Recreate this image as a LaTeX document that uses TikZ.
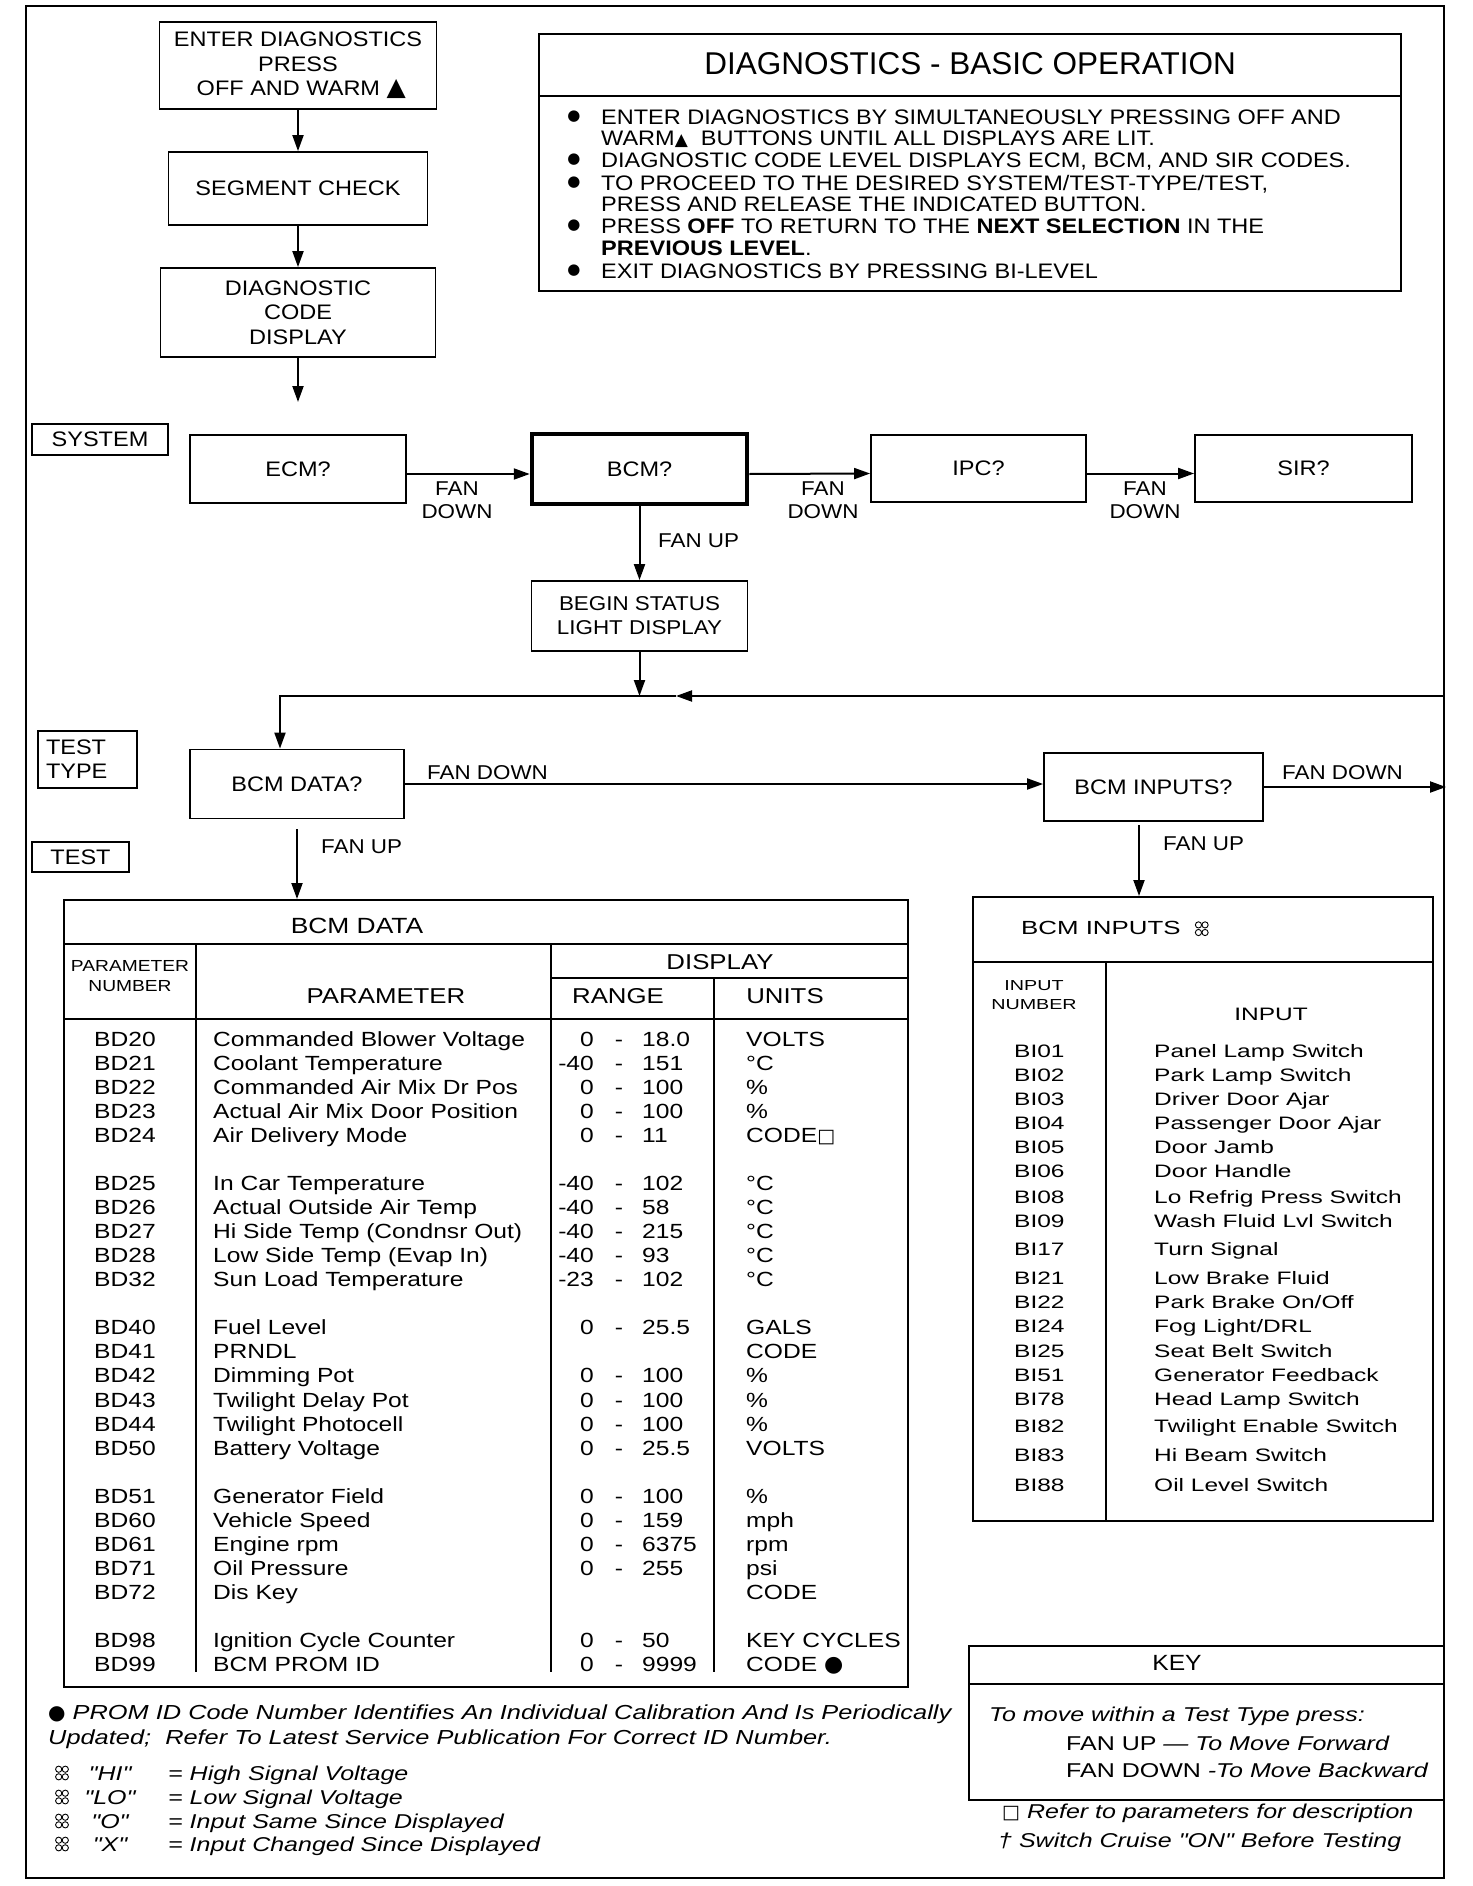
\documentclass[tikz,border=0pt]{standalone}
\usepackage{fontspec}
\setmainfont{Liberation Sans}[FakeStretch=1.12]
\newfontfamily\ttlfont{Liberation Sans}
\newfontfamily\tblfont{Liberation Sans}[FakeStretch=1.2]
\newfontfamily\widefont{Liberation Sans}[FakeStretch=1.36]
\newfontfamily\notefont{Liberation Sans}[FakeStretch=1.25]
\newfontfamily\symfont{DejaVu Sans}
\usetikzlibrary{positioning,arrows.meta}

\newcommand{\fsz}[2]{\fontsize{#1}{#2}\selectfont}
\newcommand{\rings}{\tikz[x=1pt,y=1pt,baseline=0pt]{\foreach \cx in {0,6.6}{\foreach \cy in {2,9.6}{\draw[line width=0.9pt] (\cx,\cy) circle (3.1);}}}}

\tikzset{
  box/.style={draw=black, line width=1.8pt, align=center, font=\fsz{21}{24.5}},
  thickbox/.style={box, line width=4.5pt},
  lvl/.style={draw=black, line width=1.8pt, font=\fsz{21}{24}},
  fl/.style={draw=black, line width=2pt, ->, >={Triangle[length=16pt,width=11pt]}},
  fan/.style={inner sep=0pt, align=center, font=\fsz{20}{23}},
  lbl/.style={inner sep=0pt, text height=15pt, text depth=0pt, font=\fsz{21}{24}},
  tbl/.style={draw=black, line width=2pt},
  rule/.style={draw=black, line width=1.6pt},
  cell/.style={inner sep=0pt, text height=14.5pt, text depth=0pt, font=\tblfont\fsz{20.5}{24}},
  incell/.style={inner sep=0pt, text height=13pt, text depth=0pt, font=\widefont\fsz{18}{22}},
  note/.style={inner sep=0pt, text height=14.5pt, text depth=0pt, font=\notefont\itshape\fsz{20}{24}}
}

\begin{document}
\begin{tikzpicture}[x=1pt, y=-1pt]
  \useasboundingbox (0,0) rectangle (1472,1886);
  \draw[line width=2pt] (26,6) rectangle (1444,1878);

  % entry chain
  \node[box, minimum width=277pt, minimum height=87pt] (enter) at (298,65.5) {ENTER DIAGNOSTICS\\PRESS\\ \ OFF AND WARM {\symfont\fsz{25}{20}▲}};
  \node[box, minimum width=259pt, minimum height=73pt] (seg) at (298,188.5) {SEGMENT CHECK};
  \node[box, minimum width=275pt, minimum height=89pt] (dcd) at (298,312.5) {DIAGNOSTIC\\CODE\\DISPLAY};
  \coordinate (sysin) at (298,402);
  \draw[fl] (enter) -- (seg);
  \draw[fl] (seg) -- (dcd);
  \draw[fl] (dcd) -- (sysin);

  % basic operation panel
  \node[tbl, minimum width=862pt, minimum height=257pt] (ops) at (970,162.5) {};
  \draw[rule] (ops.west |- 0,96) -- (ops.east |- 0,96);
  \node[font=\ttlfont\fsz{31.5}{36}] (opsttl) at (970,64) {DIAGNOSTICS - BASIC OPERATION};
  \foreach \y [count=\i] in {117,160,183,226,271}
    \node[inner sep=0pt, font=\symfont\fsz{15}{16}] (dot\i) at (574,\y) {●};
  \node[lbl, anchor=west] (o1) at (601,117) {ENTER DIAGNOSTICS BY SIMULTANEOUSLY PRESSING OFF AND};
  \node[lbl, anchor=west] (o2) at (601,138) {WARM{\symfont\fsz{17}{16}▲}\ \ BUTTONS UNTIL ALL DISPLAYS ARE LIT.};
  \node[lbl, anchor=west] (o3) at (601,160) {DIAGNOSTIC CODE LEVEL DISPLAYS ECM, BCM, AND SIR CODES.};
  \node[lbl, anchor=west] (o4) at (601,183) {TO PROCEED TO THE DESIRED SYSTEM/TEST-TYPE/TEST,};
  \node[lbl, anchor=west] (o5) at (601,204) {PRESS AND RELEASE THE INDICATED BUTTON.};
  \node[lbl, anchor=west] (o6) at (601,226) {PRESS \textbf{OFF} TO RETURN TO THE \textbf{NEXT SELECTION} IN THE};
  \node[lbl, anchor=west] (o7) at (601,248) {\textbf{PREVIOUS LEVEL}.};
  \node[lbl, anchor=west] (o8) at (601,271) {EXIT DIAGNOSTICS BY PRESSING BI-LEVEL};

  % system level
  \node[lvl, minimum width=136pt, minimum height=31pt] (sys) at (100,439.5) {SYSTEM};
  \node[box, minimum width=216pt, minimum height=68pt] (ecm) at (298,469) {ECM?};
  \node[thickbox, minimum width=215pt, minimum height=70pt] (bcm) at (639.5,469) {BCM?};
  \node[box, minimum width=215pt, minimum height=67pt] (ipc) at (978.5,468.5) {IPC?};
  \node[box, minimum width=217pt, minimum height=67pt] (sir) at (1303.5,468.5) {SIR?};
  \draw[fl] ([yshift=-5pt]ecm.east) -- ([yshift=-5pt]bcm.west);
  \draw[fl] ([yshift=-5pt]bcm.east) -- ([yshift=-5pt]ipc.west);
  \draw[fl] ([yshift=-5pt]ipc.east) -- ([yshift=-5pt]sir.west);
  \node[fan] (fd1) at (457,500) {FAN\\DOWN};
  \node[fan] (fd2) at (823,500) {FAN\\DOWN};
  \node[fan] (fd3) at (1145,500) {FAN\\DOWN};

  \node[box, minimum width=216pt, minimum height=70pt, font=\fsz{20}{24}] (begin) at (639.5,616) {BEGIN STATUS\\LIGHT DISPLAY};
  \draw[fl] (bcm) -- (begin);
  \node[fan, anchor=west] (fu1) at (658,541) {FAN UP};

  % return loop into test type
  \coordinate (join) at (639.5,696);
  \coordinate (entR) at (1444,696);
  \coordinate (tipL) at (676,696);
  \coordinate (cornL) at (280,696);
  \draw[fl] (begin) -- (join);
  \draw[fl] (entR) -- (tipL);

  % test type level
  \node[lvl, minimum height=57pt, text width=83pt, inner sep=8pt, align=left] (ttype) at (87.5,759.5) {TEST\\TYPE};
  \node[box, minimum width=214pt, minimum height=69pt] (bdq) at (297,784) {BCM DATA?};
  \node[box, minimum width=219pt, minimum height=68pt] (biq) at (1153.5,787) {BCM INPUTS?};
  \draw[fl] (tipL) -- (cornL) -- (cornL |- bdq.north);
  \draw[fl] (bdq) -- (bdq -| biq.west);
  \node[fan, anchor=west] (fd4) at (427,773) {FAN DOWN};
  \coordinate (exitR) at (1446,787);
  \draw[fl] (biq) -- (exitR);
  \node[fan, anchor=west] (fd5) at (1282,773) {FAN DOWN};
  \node[lvl, minimum width=97pt, minimum height=30pt] (tst) at (80.5,857) {TEST};

  % BCM data table
  \node[tbl, minimum width=844pt, minimum height=787pt] (dtab) at (486,1293.5) {};
  \draw[rule] (dtab.west |- 0,944) -- (dtab.east |- 0,944);
  \draw[rule] (551,978) -- (dtab.east |- 0,978);
  \draw[rule] (dtab.west |- 0,1019) -- (dtab.east |- 0,1019);
  \draw[rule] (196,944) -- (196,1672);
  \draw[rule] (551,944) -- (551,1672);
  \draw[rule] (714,978) -- (714,1672);
  \node[font=\tblfont\fsz{22}{26}] (dttl) at (357,926) {BCM DATA};
  \node[align=center, inner sep=0pt, font=\tblfont\fsz{16}{20}] (hnum) at (130,976) {PARAMETER\\NUMBER};
  \node[cell, font=\tblfont\fsz{21.5}{26}] (hpar) at (386,996) {PARAMETER};
  \node[cell, font=\tblfont\fsz{21.5}{26}] (hdsp) at (720,962) {DISPLAY};
  \node[cell, font=\tblfont\fsz{21.5}{26}] (hrng) at (618,996) {RANGE};
  \node[cell, font=\tblfont\fsz{21.5}{26}] (hunt) at (785,996) {UNITS};
  \foreach \k/\num/\name/\lo/\hi/\unit in {
    0/BD20/Commanded Blower Voltage/0/18.0/VOLTS,
    1/BD21/Coolant Temperature/-40/151/°C,
    2/BD22/Commanded Air Mix Dr Pos/0/100/\%,
    3/BD23/Actual Air Mix Door Position/0/100/\%,
    4/BD24/Air Delivery Mode/0/11/{CODE{\symfont\fsz{19}{20}□}},
    6/BD25/In Car Temperature/-40/102/°C,
    7/BD26/Actual Outside Air Temp/-40/58/°C,
    8/BD27/Hi Side Temp (Condnsr Out)/-40/215/°C,
    9/BD28/Low Side Temp (Evap In)/-40/93/°C,
    10/BD32/Sun Load Temperature/-23/102/°C,
    12/BD40/Fuel Level/0/25.5/GALS,
    13/BD41/PRNDL///CODE,
    14/BD42/Dimming Pot/0/100/\%,
    15/BD43/Twilight Delay Pot/0/100/\%,
    16/BD44/Twilight Photocell/0/100/\%,
    17/BD50/Battery Voltage/0/25.5/VOLTS,
    19/BD51/Generator Field/0/100/\%,
    20/BD60/Vehicle Speed/0/159/mph,
    21/BD61/Engine rpm/0/6375/rpm,
    22/BD71/Oil Pressure/0/255/psi,
    23/BD72/Dis Key///CODE,
    25/BD98/Ignition Cycle Counter/0/50/KEY CYCLES,
    26/BD99/BCM PROM ID/0/9999/{CODE {\symfont\fsz{22}{24}●}}}{
    \node[cell, anchor=west] (n\num) at (94,{1039+24.05*\k}) {\num};
    \node[cell, anchor=west] (p\num) at (213,{1039+24.05*\k}) {\name};
    \edef\rlo{\lo}
    \ifx\rlo\empty\else
      \node[cell, anchor=east] (l\num) at (594,{1039+24.05*\k}) {\lo};
      \node[cell] (d\num) at (619,{1039+24.05*\k}) {-};
      \node[cell, anchor=west] (h\num) at (642,{1039+24.05*\k}) {\hi};
    \fi
    \node[cell, anchor=west] (u\num) at (746,{1039+24.05*\k}) {\unit};
  }

  % BCM inputs table
  \node[tbl, minimum width=460pt, minimum height=624pt] (itab) at (1203,1209) {};
  \draw[rule] (itab.west |- 0,962) -- (itab.east |- 0,962);
  \draw[rule] (1106,962) -- (1106,1521);
  \node[incell, anchor=west, font=\widefont\fsz{19}{22}] (ittl) at (1021,928) {BCM INPUTS\ \ \rings};
  \node[align=center, inner sep=0pt, font=\widefont\fsz{14.5}{19}] (inh) at (1034,995) {INPUT\\NUMBER};
  \node[incell] (ihd) at (1271,1014) {INPUT};
  \foreach \y/\num/\name in {1051/BI01/Panel Lamp Switch, 1075/BI02/Park Lamp Switch,
    1099/BI03/Driver Door Ajar, 1123/BI04/Passenger Door Ajar, 1147/BI05/Door Jamb,
    1171/BI06/Door Handle, 1197/BI08/Lo Refrig Press Switch, 1221/BI09/Wash Fluid Lvl Switch,
    1249/BI17/Turn Signal, 1278/BI21/Low Brake Fluid, 1302/BI22/{Park Brake On/Off},
    1326/BI24/{Fog Light/DRL}, 1351/BI25/Seat Belt Switch, 1375/BI51/Generator Feedback,
    1399/BI78/Head Lamp Switch, 1426/BI82/Twilight Enable Switch, 1455/BI83/Hi Beam Switch,
    1485/BI88/Oil Level Switch}{
    \node[incell, anchor=west] (\num) at (1014,\y) {\num};
    \node[incell, anchor=west] (in\num) at (1154,\y) {\name};
  }

  % fan up into the tables
  \coordinate (biqd) at (1139,825);
  \draw[fl] ([yshift=-10pt]bdq.south) -- (bdq.south |- dtab.north);
  \node[fan, anchor=west] (fu2) at (321,847) {FAN UP};
  \draw[fl] (biqd) -- (biqd |- itab.north);
  \node[fan, anchor=west] (fu3) at (1163,844) {FAN UP};

  % key
  \node[tbl, minimum width=475pt, minimum height=154pt] (key) at (1206.5,1723) {};
  \draw[rule] (key.west |- 0,1684) -- (key.east |- 0,1684);
  \node[font=\fsz{22}{26}] (keyt) at (1177,1663) {KEY};
  \node[note, anchor=west] (k1) at (989,1714) {To move within a Test Type press:};
  \node[note, anchor=west] (k2) at (1066,1743) {\textup{FAN UP} — To Move Forward};
  \node[note, anchor=west] (k3) at (1066,1770) {\textup{FAN DOWN} -To Move Backward};
  \node[note, anchor=west] (k4) at (1002,1811) {{\symfont\upshape\fsz{19}{20}□} Refer to parameters for description};
  \node[note, anchor=west] (k5) at (998,1840) {† Switch Cruise "ON" Before Testing};

  % footnotes
  \node[note, anchor=west, font=\notefont\itshape\fsz{20.3}{24}] (f1) at (48,1712) {{\symfont\upshape\fsz{20}{22}●} PROM ID Code Number Identifies An Individual Calibration And Is Periodically};
  \node[note, anchor=west, font=\notefont\itshape\fsz{20.3}{24}] (f2) at (48,1737) {Updated;\ \ Refer To Latest Service Publication For Correct ID Number.};
  \foreach \y/\q/\d [count=\i] in {1773/"HI"/High Signal Voltage, 1797/"LO"/Low Signal Voltage,
    1821/"O"/Input Same Since Displayed, 1844/"X"/Input Changed Since Displayed}{
    \node[inner sep=0pt] (r\i) at (62,\y) {\rings};
    \node[note] (q\i) at (110,\y) {\q};
    \node[note, anchor=west] (e\i) at (168,\y) {= \d};
  }
\end{tikzpicture}
\end{document}
